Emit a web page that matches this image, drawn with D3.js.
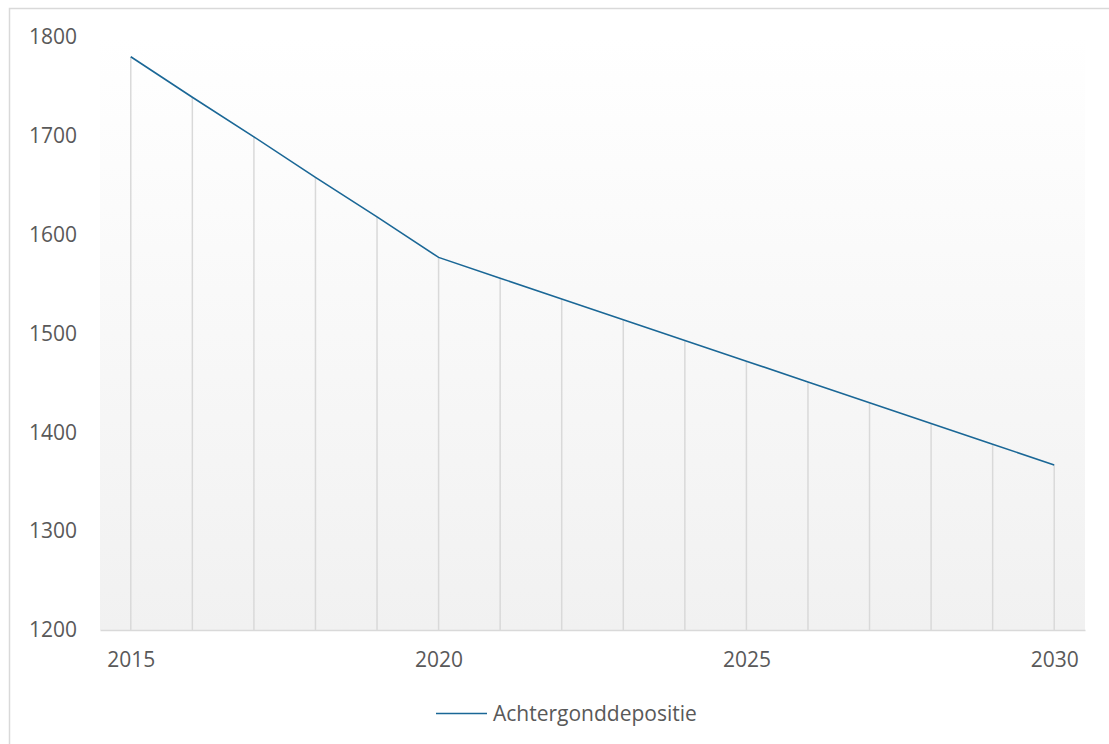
<!DOCTYPE html>
<html lang="nl">
<head>
<meta charset="UTF-8">
<title>Achtergronddepositie</title>
<script src="https://d3js.org/d3.v7.min.js"></script>
<style>
  body { margin: 0; background: #fff; }
  text { font-family: "Open Sans", sans-serif; fill: #595959; }
</style>
</head>
<body>
<svg id="chart" width="1109" height="744"></svg>
<script>
// data
var years = [2015, 2016, 2017, 2018, 2019, 2020, 2021, 2022, 2023, 2024, 2025, 2026, 2027, 2028, 2029, 2030];
var values = [1780, 1739, 1699, 1658, 1618, 1577, 1556, 1535, 1514, 1493, 1472, 1451, 1430, 1409, 1388, 1367];
var xTicks = [2015, 2020, 2025, 2030];
var yTicks = [1200, 1300, 1400, 1500, 1600, 1700, 1800];
var seriesName = "Achtergonddepositie";

var svg = d3.select("#chart");
var plotLeft = 100, plotRight = 1085, plotTop = 37, plotBottom = 630;

// chart border
svg.append("rect")
    .attr("x", 9.5).attr("y", 8.5)
    .attr("width", 1120).attr("height", 760)
    .attr("fill", "#fff")
    .attr("stroke", "#d9d9d9")
    .attr("stroke-width", 1.5);

var grad = svg.append("defs").append("linearGradient")
    .attr("id", "bg").attr("x1", 0).attr("y1", 0).attr("x2", 0).attr("y2", 1);
grad.append("stop").attr("offset", "0%").attr("stop-color", "#ffffff");
grad.append("stop").attr("offset", "100%").attr("stop-color", "#f1f1f1");

var x = d3.scalePoint().domain(years).range([plotLeft, plotRight]).padding(0.5);
var y = d3.scaleLinear().domain([1200, 1800]).range([plotBottom, plotTop]);

svg.append("rect")
    .attr("x", plotLeft).attr("y", plotTop)
    .attr("width", plotRight - plotLeft).attr("height", plotBottom - plotTop)
    .attr("fill", "url(#bg)");

// drop lines
svg.selectAll(".drop")
    .data(years)
    .join("line")
    .attr("class", "drop")
    .attr("x1", d => x(d)).attr("x2", d => x(d))
    .attr("y1", (d, i) => y(values[i]))
    .attr("y2", y(1200))
    .attr("stroke", "#d9d9d9")
    .attr("stroke-width", 1.5);

// x axis
var xAxis = svg.append("g")
    .attr("transform", "translate(0," + plotBottom + ")")
    .call(d3.axisBottom(x).tickValues(xTicks).tickSize(0).tickSizeOuter(0).tickPadding(22));
xAxis.select(".domain").attr("stroke", "#d9d9d9").attr("stroke-width", 1.5);
xAxis.selectAll("text").style("font-size", "21px").attr("fill", "#595959");

// y axis
var yAxis = svg.append("g")
    .attr("transform", "translate(77,0)")
    .call(d3.axisLeft(y).tickValues(yTicks).tickFormat(d3.format("d")).tickSize(0).tickPadding(0));
yAxis.select(".domain").remove();
yAxis.selectAll("text").style("font-size", "21px").attr("fill", "#595959");

// series line
var line = d3.line()
    .x((d, i) => x(years[i]))
    .y(d => y(d));
svg.append("path")
    .datum(values)
    .attr("d", line)
    .attr("fill", "none")
    .attr("stroke", "#1a6796")
    .attr("stroke-width", 1.6);

// legend
svg.append("line")
    .attr("x1", 436).attr("x2", 487)
    .attr("y1", 713.5).attr("y2", 713.5)
    .attr("stroke", "#1a6796")
    .attr("stroke-width", 1.6);
svg.append("text")
    .attr("x", 493).attr("y", 721)
    .style("font-size", "21px")
    .text(seriesName);
</script>
</body>
</html>
